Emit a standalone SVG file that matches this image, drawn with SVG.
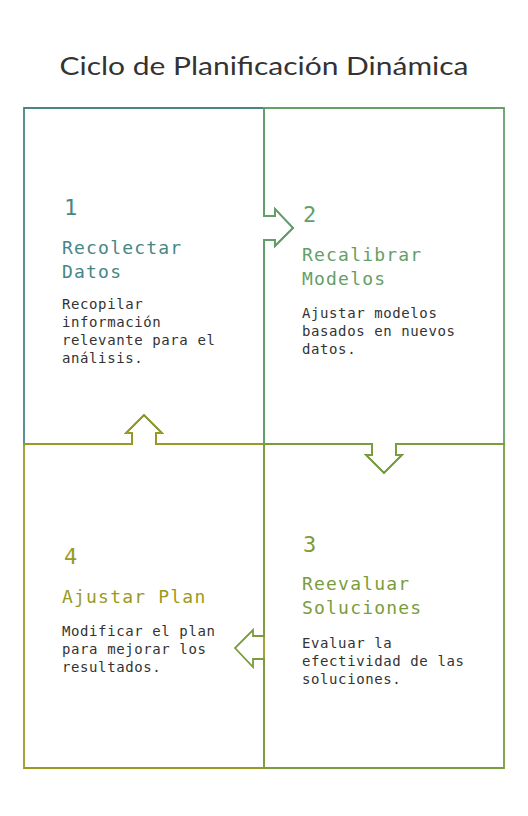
<svg xmlns="http://www.w3.org/2000/svg" width="528" height="816" viewBox="0 0 528 816">
<style>
  .box { fill: none; stroke-width: 1.8; stroke-linejoin: miter; }
  .num { font-family: "DejaVu Sans Mono", "Liberation Mono", monospace; font-size: 22px; }
  .ttl { font-family: "DejaVu Sans Mono", "Liberation Mono", monospace; font-size: 18px; letter-spacing: 1.2px; }
  .body { font-family: "DejaVu Sans Mono", "Liberation Mono", monospace; font-size: 14px; letter-spacing: 0.6px; fill: #333333; }
</style>
<rect width="528" height="816" fill="#ffffff"/>
<text x="264" y="75" text-anchor="middle" font-family="Lato, 'Noto Sans', sans-serif" font-size="25" fill="#333333" textLength="409" lengthAdjust="spacingAndGlyphs">Ciclo de Planificación Dinámica</text>

<g id="connectors">
  <!-- arrows are formed by the box outlines -->
</g>

<g id="node1">
  <polygon class="box" stroke="#468686" points="24,108 264,108 264,216 275,216 275,209 293,228 275,246 275,240 264,240 264,444 156,444 156,433 162,433 144,415 126,433 132,433 132,444 24,444"/>
  <text class="num" x="64" y="215" fill="#468686">1</text>
  <text class="ttl" x="62" y="254" fill="#468686">Recolectar</text>
  <text class="ttl" x="62" y="278" fill="#468686">Datos</text>
  <text class="body" x="62" y="309">Recopilar</text>
  <text class="body" x="62" y="327">información</text>
  <text class="body" x="62" y="345">relevante para el</text>
  <text class="body" x="62" y="363">análisis.</text>
</g>

<g id="node2">
  <polygon class="box" stroke="#64a066" points="264,108 504,108 504,444 396,444 396,455 402,455 384,473 366,455 372,455 372,444 264,444 264,240 275,240 275,246 293,228 275,209 275,216 264,216"/>
  <text class="num" x="303" y="221.5" fill="#64a066">2</text>
  <text class="ttl" x="302" y="261" fill="#64a066">Recalibrar</text>
  <text class="ttl" x="302" y="284.5" fill="#64a066">Modelos</text>
  <text class="body" x="302" y="318">Ajustar modelos</text>
  <text class="body" x="302" y="336">basados en nuevos</text>
  <text class="body" x="302" y="354">datos.</text>
</g>

<g id="node4">
  <polygon class="box" stroke="#9a9a22" points="24,444 132,444 132,433 126,433 144,415 162,433 156,433 156,444 264,444 264,768 24,768"/>
  <text class="num" x="64" y="563.5" fill="#9a9a22">4</text>
  <text class="ttl" x="62" y="602.5" fill="#9a9a22">Ajustar Plan</text>
  <text class="body" x="62" y="636">Modificar el plan</text>
  <text class="body" x="62" y="654">para mejorar los</text>
  <text class="body" x="62" y="672">resultados.</text>
</g>

<g id="node3">
  <polygon class="box" stroke="#7b9c3c" points="264,444 372,444 372,455 366,455 384,473 402,455 396,455 396,444 504,444 504,768 264,768 264,659 253,659 253,667 235,648 253,630 253,636 264,636"/>
  <text class="num" x="303" y="551.5" fill="#7b9c3c">3</text>
  <text class="ttl" x="302" y="590" fill="#7b9c3c">Reevaluar</text>
  <text class="ttl" x="302" y="614" fill="#7b9c3c">Soluciones</text>
  <text class="body" x="302" y="648">Evaluar la</text>
  <text class="body" x="302" y="666">efectividad de las</text>
  <text class="body" x="302" y="684">soluciones.</text>
</g>
</svg>
